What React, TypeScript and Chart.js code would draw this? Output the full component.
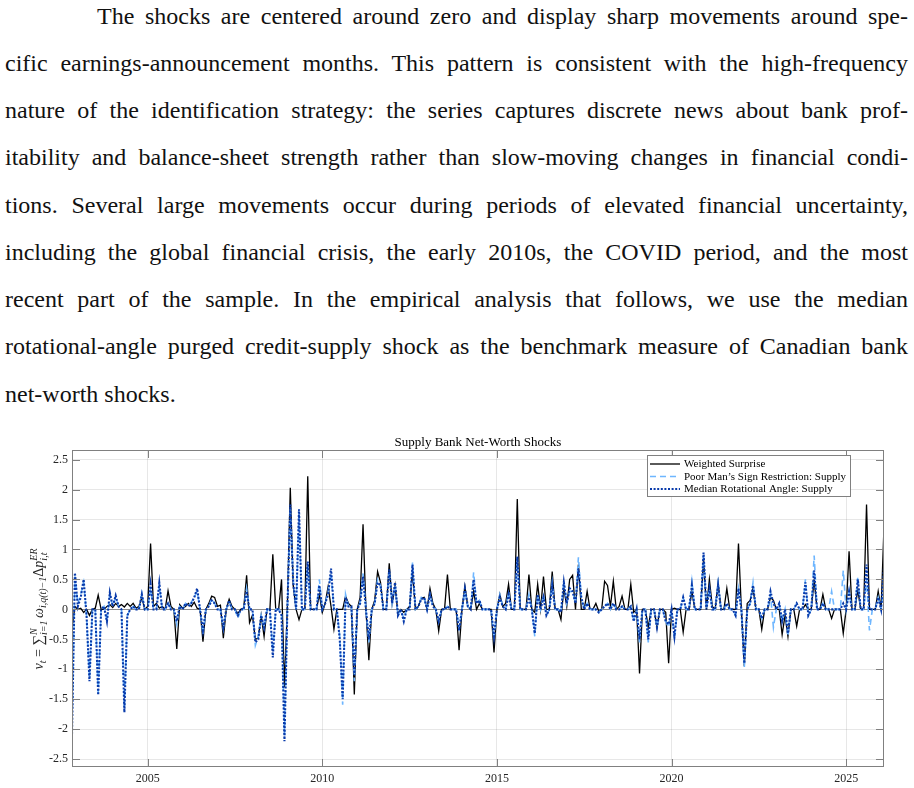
import React, { useEffect, useRef } from "react";
import { Chart, registerables } from "chart.js";
Chart.register(...registerables);

const PARAGRAPH_LINES = [
  "The shocks are centered around zero and display sharp movements around spe-",
  "cific earnings-announcement months. This pattern is consistent with the high-frequency",
  "nature of the identification strategy: the series captures discrete news about bank prof-",
  "itability and balance-sheet strength rather than slow-moving changes in financial condi-",
  "tions. Several large movements occur during periods of elevated financial uncertainty,",
  "including the global financial crisis, the early 2010s, the COVID period, and the most",
  "recent part of the sample. In the empirical analysis that follows, we use the median",
  "rotational-angle purged credit-supply shock as the benchmark measure of Canadian bank",
  "net-worth shocks.",
];

const TITLE = "Supply Bank Net-Worth Shocks";
const START_YEAR = 2002;
const START_MONTH = 11; // November 2002, monthly observations

const WEIGHTED = [
  -0.32, 0.05, 0, 0.02, -0.05, 0, -0.1, 0, 0.02, 0.24,
  0, 0, 0.05, 0.08, 0.03, 0.1, 0.05, 0.08, 0.04, 0.1,
  0.05, 0.1, 0.02, 0.05, 0.2, 0, 0.05, 1.1, 0.05, 0.1,
  0.02, 0.05, 0, 0.31, 0.05, 0, -0.66, 0.08, 0.02, 0.05,
  0.1, 0.05, 0.12, 0.02, 0, -0.54, 0, 0.1, 0.22, 0.2,
  0.05, 0.07, -0.48, 0, 0.17, 0.05, 0, -0.07, 0, 0.02,
  0.57, -0.22, -0.1, -0.5, -0.48, -0.1, -0.45, 0, 0, 0.92,
  0, 0, 0.5, -1.3, 0.05, 2.03, 0.4, 0, -0.17, 0,
  0, 2.22, 0, 0, 0, 0.25, -0.05, 0.1, 0.38, 0.05,
  -0.33, 0, 0, 0, 0.22, 0.1, 0.05, -1.42, 0, 0.2,
  1.42, 0, -0.85, 0, 0.15, 0.63, 0.45, 0, 0, 0.77,
  0.1, 0.4, -0.07, 0, -0.05, 0, 0.05, 0.63, 0, 0.05,
  0.18, 0.2, 0, 0.35, 0.1, 0, -0.36, 0, 0, 0.58,
  0, 0, 0, -0.68, 0, 0.38, 0.05, 0, 0.3, 0,
  0.1, 0, 0, 0, 0, -0.72, 0, 0.25, 0.05, 0.1,
  0.42, 0, 0, 1.84, 0, 0, 0, 0.58, 0, -0.05,
  0.42, 0, 0.55, 0, 0, 0.63, 0, 0, -0.17, 0.35,
  0.05, 0.5, 0.57, 0, 0.75, 0, 0, 0.3, 0, 0,
  0.1, -0.03, 0, 0.47, 0.4, 0.05, 0.47, 0, 0.05, 0.22,
  0, 0, 0.42, -0.05, 0, -1.07, 0, 0, -0.3, 0,
  0, -0.3, 0, 0, -0.05, -0.9, 0, 0.02, 0, 0,
  -0.38, 0, 0, 0.3, 0, 0, 0, 0.85, 0, 0.5,
  0.05, 0, 0.45, 0, 0, 0.35, 0, 0, 0, 1.1,
  0, -0.95, 0.1, 0.15, 0.35, 0, 0, -0.33, 0, 0,
  0.2, 0.15, 0, 0, -0.42, -0.1, -0.45, 0, 0, -0.28,
  0, 0, 0.08, 0, 0, 0.5, 0, 0, 0.25, 0,
  0, -0.15, 0, 0, 0, -0.4, 0, 0.97, 0, 0,
  0.33, 0, 0, 1.75, 0, 0, 0, 0.3, 0, 1.38,
];

const POOR_MAN = [
  -2.0, 0.55, 0.1, 0.25, 0.45, -0.1, -1.15, 0, 0, -1.4,
  0, 0.05, -0.2, 0.25, 0.05, 0.2, 0.05, 0, -1.65, -0.1,
  0, 0.05, 0, 0, 0.27, 0, 0, 0.35, 0, 0,
  0.4, 0, 0, 0.12, 0, 0, -0.25, 0.05, 0, 0.1,
  0.05, 0.12, 0.2, 0.3, 0, -0.42, 0, 0.05, 0.18, 0.1,
  0, 0, -0.32, 0, 0.12, 0, 0, -0.15, 0, 0,
  0.35, 0, 0, -0.6, -0.45, -0.1, -0.3, 0, 0, -0.7,
  0, 0, -0.05, -2.1, 0, 1.7, 0.5, 0, 1.6, 0,
  0, 0.75, 0, 0, 0, 0.5, 0, 0.1, 0.3, 0.6,
  0, 0, -0.45, -1.59, 0.25, 0.05, 0.05, -1.2, 0, 0.12,
  0.6, 0, -0.55, 0, 0.1, 0.5, 0.4, 0, 0, 0.65,
  0.1, 0.4, -0.1, 0, -0.15, 0, 0, 0.78, 0, 0.05,
  0.2, 0.2, 0, 0.25, 0.05, 0, -0.2, 0, 0, 0.05,
  0, 0, 0, -0.3, 0, 0.3, 0.05, 0, 0.62, 0.1,
  0.15, 0, 0, 0, 0, -0.5, 0, 0.25, 0.05, 0,
  0.3, 0, 0, 0.85, 0, 0, 0, 0.25, 0, -0.45,
  0.25, 0, 0.25, -0.1, 0, 0.45, 0, 0, -0.05, 0.47,
  0.1, 0.3, 0.3, 0.1, 0.87, 0.2, 0, 0.1, 0, 0,
  0, -0.05, 0, 0.05, 0.1, 0, 0.12, 0, 0, 0.05,
  0, 0, 0.05, -0.2, 0, -0.55, 0, 0, -0.55, 0,
  0, -0.3, 0, 0, -0.2, -0.3, 0, -0.5, 0, 0,
  0.2, 0, 0, 0.47, 0, 0, 0, 0.9, 0, 0.35,
  0, 0, 0.45, 0, 0, 0.1, 0, 0, -0.1, 0.35,
  0, -0.97, 0, 0.1, 0.45, 0, 0, -0.15, 0, 0,
  0.25, -0.3, 0, 0.1, -0.2, 0, -0.45, 0, 0, 0.1,
  0, 0, 0.5, -0.1, 0, 0.9, 0, 0, 0.1, 0,
  0, 0.3, 0, 0, 0, 0.65, 0, 0.3, 0, 0,
  0.55, 0, 0, 0.5, -0.35, 0, 0, 0.2, 0, 0.35,
];

const MEDIAN_RA = [
  -2.08, 0.61, 0.05, 0.2, 0.5, -0.1, -1.2, 0, 0, -1.43,
  0, 0.05, -0.2, 0.28, 0.05, 0.23, 0.05, 0, -1.72, -0.1,
  0, 0.05, 0, 0, 0.25, 0, 0, 0.42, 0, 0,
  0.44, 0, 0, 0.1, 0, 0, -0.2, 0.05, 0, 0.1,
  0.05, 0.1, 0.2, 0.35, 0, -0.35, 0, 0.05, 0.15, 0.1,
  0, 0, -0.3, 0, 0.15, 0, 0, -0.1, 0, 0,
  0.3, 0, 0, -0.55, -0.5, -0.1, -0.3, 0, 0, -0.8,
  0, 0, -0.1, -2.2, 0, 1.75, 0.45, 0, 1.67, 0,
  0, 0.8, 0, 0, 0, 0.4, 0, 0.1, 0.25, 0.68,
  0, 0, -0.5, -1.5, 0.2, 0.05, 0.05, -1.1, 0, 0.1,
  0.55, 0, -0.5, 0, 0.1, 0.45, 0.4, 0, 0, 0.67,
  0.1, 0.45, -0.1, 0, -0.2, 0, 0, 0.75, 0, 0.05,
  0.17, 0.2, 0, 0.25, 0.05, 0, -0.2, 0, 0, 0.05,
  0, 0, 0, -0.35, 0, 0.35, 0.05, 0, 0.5, 0.1,
  0.15, 0, 0, 0, 0, -0.45, 0, 0.2, 0.05, 0,
  0.25, 0, 0, 0.88, 0, 0, 0, 0.2, 0, -0.4,
  0.25, 0, 0.2, -0.1, 0, 0.4, 0, 0, -0.05, 0.45,
  0.1, 0.35, 0.3, 0.1, 0.68, 0.2, 0, 0.1, 0, 0,
  0, -0.05, 0, 0.05, 0.1, 0, 0.1, 0, 0, 0.05,
  0, 0, 0.05, -0.2, 0, -0.5, 0, 0, -0.5, 0,
  0, -0.3, 0, 0, -0.2, -0.25, 0, -0.45, 0, 0,
  0.2, 0, 0, 0.4, 0, 0, 0, 0.95, 0, 0.35,
  0, 0, 0.4, 0, 0, 0.1, 0, 0, -0.1, 0.35,
  0, -0.9, 0, 0.1, 0.4, 0, 0, -0.15, 0, 0,
  0.3, 0.1, 0, 0.1, -0.2, 0, -0.4, 0, 0, 0.1,
  0, 0, 0.45, -0.1, 0, 0.65, 0, 0, 0.1, 0,
  0, 0, 0, 0, 0, 0.1, 0, 0.3, 0, 0,
  0.5, 0, 0, 0.75, 0, 0, 0, 0.2, 0, 0.7,
];

const SERIES_LABELS = [
  "Weighted Surprise",
  "Poor Man\u2019s Sign Restriction: Supply",
  "Median Rotational Angle: Supply",
];

const X_TICKS = [2005, 2010, 2015, 2020, 2025];
const Y_TICKS = [-2.5, -2, -1.5, -1, -0.5, 0, 0.5, 1, 1.5, 2, 2.5];
const Y_MIN = -2.63;
const Y_MAX = 2.66;

const DATES = WEIGHTED.map((_, i) => START_YEAR + (START_MONTH - 1 + i) / 12);
const X_MIN = DATES[0];
const X_MAX = DATES[DATES.length - 1];

const FONT = '"Liberation Serif", "Times New Roman", serif';
const AXIS_COLOR = "rgb(128,128,128)";
const GRID_COLOR = "rgba(38,38,38,0.11)";
const ZERO_COLOR = "rgb(140,140,140)";
const TEXT_COLOR = "#262626";
const COLORS = ["#000000", "rgb(110,182,255)", "rgb(8,58,170)"];
const DASHES: number[][] = [[], [6, 4], [2, 1.6]];
const WIDTHS = [1.3, 1.6, 2.1];

const boxPlugin = {
  id: "matlabBox",
  afterDatasetsDraw(chart: any) {
    const { ctx, chartArea: a, scales } = chart;
    ctx.save();
    ctx.strokeStyle = AXIS_COLOR;
    ctx.lineWidth = 1;
    ctx.setLineDash([]);
    ctx.strokeRect(a.left + 0.5, a.top + 0.5, a.right - a.left - 1, a.bottom - a.top - 1);
    ctx.beginPath();
    for (const v of X_TICKS) {
      const x = Math.round(scales.x.getPixelForValue(v)) + 0.5;
      ctx.moveTo(x, a.bottom);
      ctx.lineTo(x, a.bottom - 8);
      ctx.moveTo(x, a.top);
      ctx.lineTo(x, a.top + 8);
    }
    for (const v of Y_TICKS) {
      const y = Math.round(scales.y.getPixelForValue(v)) + 0.5;
      ctx.moveTo(a.left, y);
      ctx.lineTo(a.left + 8, y);
      ctx.moveTo(a.right, y);
      ctx.lineTo(a.right - 8, y);
    }
    ctx.stroke();
    ctx.restore();
  },
};

const legendPlugin = {
  id: "matlabLegend",
  afterDraw(chart: any) {
    const { ctx, chartArea: a } = chart;
    const right = a.right - 33;
    const width = 204;
    const left = right - width;
    const top = a.top + 5;
    const height = 42;
    ctx.save();
    ctx.fillStyle = "#fff";
    ctx.fillRect(left, top, width, height);
    ctx.strokeStyle = AXIS_COLOR;
    ctx.lineWidth = 1;
    ctx.setLineDash([]);
    ctx.strokeRect(left + 0.5, top + 0.5, width - 1, height - 1);
    ctx.font = `11px ${FONT}`;
    ctx.textBaseline = "middle";
    ctx.fillStyle = "#000";
    SERIES_LABELS.forEach((label, i) => {
      const y = top + 9 + i * 12.5;
      ctx.beginPath();
      ctx.strokeStyle = COLORS[i];
      ctx.lineWidth = WIDTHS[i];
      ctx.setLineDash(DASHES[i]);
      ctx.moveTo(left + 3, y);
      ctx.lineTo(left + 33, y);
      ctx.stroke();
      ctx.setLineDash([]);
      ctx.fillText(label, left + 37, y + 0.5);
    });
    ctx.restore();
  },
};

const titlePlugin = {
  id: "matlabTitle",
  afterDraw(chart: any) {
    const { ctx, chartArea: a } = chart;
    ctx.save();
    ctx.font = `13px ${FONT}`;
    ctx.fillStyle = "#000";
    ctx.textAlign = "center";
    ctx.textBaseline = "alphabetic";
    ctx.fillText(TITLE, (a.left + a.right) / 2, a.top - 4);
    ctx.restore();
  },
};

type Piece = { t?: string; sup?: string; sub?: string; size: number; italic?: boolean; dy?: number };
const Y_LABEL_PIECES: Piece[] = [
  { t: "v", size: 14, italic: true },
  { t: "t", size: 10, italic: true, dy: 3 },
  { t: " = ", size: 14 },
  { t: "\u2211", size: 15 },
  { sup: "N", sub: "i=1", size: 10, italic: true },
  { t: " ", size: 6 },
  { t: "\u03c9", size: 14, italic: true },
  { t: "i,q(t)\u22121", size: 10, italic: true, dy: 3 },
  { t: "\u0394", size: 14 },
  { t: "p", size: 14, italic: true },
  { sup: "ER", sub: "i,t", size: 10, italic: true },
];

const yLabelPlugin = {
  id: "mathYLabel",
  afterDraw(chart: any) {
    const { ctx, chartArea: a } = chart;
    ctx.save();
    const fontOf = (p: Piece) => `${p.italic ? "italic " : ""}${p.size}px ${FONT}`;
    const widths = Y_LABEL_PIECES.map((p) => {
      ctx.font = fontOf(p);
      if (p.t !== undefined) return ctx.measureText(p.t).width;
      return Math.max(ctx.measureText(p.sup || "").width, ctx.measureText(p.sub || "").width) + 1;
    });
    const total = widths.reduce((s, w) => s + w, 0);
    ctx.translate(43, (a.top + a.bottom) / 2);
    ctx.rotate(-Math.PI / 2);
    ctx.fillStyle = TEXT_COLOR;
    ctx.textBaseline = "alphabetic";
    let x = -total / 2;
    Y_LABEL_PIECES.forEach((p, i) => {
      ctx.font = fontOf(p);
      if (p.t !== undefined) {
        ctx.fillText(p.t, x, p.dy || 0);
      } else {
        ctx.fillText(p.sup || "", x, -6.5);
        ctx.fillText(p.sub || "", x, 4);
      }
      x += widths[i];
    });
    ctx.restore();
  },
};

export default function App() {
  const canvasRef = useRef<HTMLCanvasElement | null>(null);

  useEffect(() => {
    if (!canvasRef.current) return;
    const series = [WEIGHTED, POOR_MAN, MEDIAN_RA];
    const chart = new Chart(canvasRef.current, {
      type: "line",
      data: {
        datasets: series.map((vals, i) => ({
          label: SERIES_LABELS[i],
          data: vals.map((v, j) => ({ x: DATES[j], y: v })),
          borderColor: COLORS[i],
          backgroundColor: COLORS[i],
          borderWidth: WIDTHS[i],
          borderDash: DASHES[i],
          pointRadius: 0,
          tension: 0,
          fill: false,
          order: 3 - i,
        })),
      },
      options: {
        animation: false,
        responsive: false,
        maintainAspectRatio: false,
        events: [],
        layout: { padding: { top: 25, right: 30, left: 0, bottom: 0 } },
        plugins: {
          legend: { display: false },
          tooltip: { enabled: false },
          title: { display: false },
        },
        scales: {
          x: {
            type: "linear",
            min: X_MIN,
            max: X_MAX,
            afterBuildTicks: (s: any) => {
              s.ticks = X_TICKS.map((v) => ({ value: v }));
            },
            afterFit: (s: any) => {
              s.height = 21;
            },
            ticks: {
              callback: (v: any) => String(v),
              font: { family: FONT, size: 12 },
              color: TEXT_COLOR,
              padding: 5,
              maxRotation: 0,
              autoSkip: false,
            },
            grid: { color: GRID_COLOR, drawTicks: false },
            border: { display: false },
          },
          y: {
            type: "linear",
            min: Y_MIN,
            max: Y_MAX,
            afterBuildTicks: (s: any) => {
              s.ticks = Y_TICKS.map((v) => ({ value: v }));
            },
            afterFit: (s: any) => {
              s.width = 72;
            },
            ticks: {
              callback: (v: any) => String(v),
              font: { family: FONT, size: 12 },
              color: TEXT_COLOR,
              padding: 4,
              autoSkip: false,
            },
            grid: {
              color: (c: any) => (c.tick && c.tick.value === 0 ? ZERO_COLOR : GRID_COLOR),
              drawTicks: false,
            },
            border: { display: false },
          },
        },
      } as any,
      plugins: [boxPlugin, legendPlugin, titlePlugin, yLabelPlugin],
    });
    return () => chart.destroy();
  }, []);

  const last = PARAGRAPH_LINES.length - 1;
  return (
    <div
      style={{
        position: "absolute",
        left: 0,
        top: 0,
        width: 914,
        height: 788,
        background: "#fff",
        fontFamily: FONT,
        overflow: "hidden",
      }}
    >
      {PARAGRAPH_LINES.map((line, i) => (
        <div
          key={i}
          style={{
            position: "absolute",
            left: i === 0 ? 97 : 5,
            width: i === 0 ? 811 : 903,
            top: 0.5 + i * 47.25,
            fontSize: 24,
            lineHeight: "30px",
            textAlign: "justify",
            textAlignLast: i === last ? "left" : "justify",
            color: "#111",
          }}
        >
          {line}
        </div>
      ))}
      <canvas
        ref={canvasRef}
        width={914}
        height={363}
        style={{ position: "absolute", left: 0, top: 425, width: 914, height: 363 }}
      />
    </div>
  );
}
